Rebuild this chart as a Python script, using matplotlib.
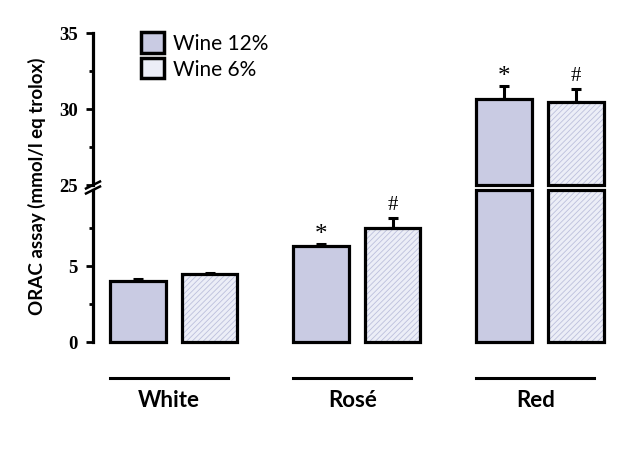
import numpy as np
import matplotlib
matplotlib.use("Agg")
import matplotlib.pyplot as plt
from matplotlib.legend_handler import HandlerTuple
from matplotlib.transforms import blended_transform_factory

# data
wines = ["White", "Rosé", "Red"]
wine12 = np.array([4.03, 6.33, 30.63])
wine6 = np.array([4.45, 7.52, 30.44])
err12 = np.array([0.10, 0.15, 0.88])
err6 = np.array([0.08, 0.62, 0.86])
marks12 = ["", "*", "*"]
marks6 = ["", "#", "#"]

low_lim = (0, 10)
high_lim = (25, 35)

fill12 = "#c9cbe3"
fill6 = "#eceef7"
hatch_col = "#bcc0dc"
mark_size = {"*": 18, "#": 15}

plt.rcParams["hatch.linewidth"] = 0.6

fig = plt.figure(figsize=(6.4, 4.52), dpi=100)
ax_lo = fig.add_axes([93 / 640, 109 / 452, 527 / 640, 152 / 452])
ax_hi = fig.add_axes([93 / 640, 266 / 452, 527 / 640, 152 / 452], sharex=ax_lo)

centers = np.arange(len(wines)) * 2.56
x12 = centers - 0.5
x6 = centers + 0.5
w = 0.78

ax_lo.set_xlim(-1.13, 6.24)
ax_lo.set_ylim(*low_lim)
ax_hi.set_ylim(*high_lim)


def draw_bars(ax, x, bottom, height, fc, hatch):
    # fill + hatch first, then black outline on top
    ax.bar(x, height, w, bottom=bottom, color=fc, hatch=hatch,
           edgecolor=hatch_col, linewidth=0, clip_on=False, zorder=2)
    ax.bar(x, height, w, bottom=bottom, fill=False, edgecolor="black",
           linewidth=2.3, clip_on=False, zorder=3)


for vals, errs, xs, fc, hatch, marks in [
        (wine12, err12, x12, fill12, None, marks12),
        (wine6, err6, x6, fill6, "//////", marks6)]:
    lo_h = np.minimum(vals, low_lim[1])
    draw_bars(ax_lo, xs, 0, lo_h, fc, hatch)
    hi = vals > high_lim[0]
    draw_bars(ax_hi, xs[hi], high_lim[0], vals[hi] - high_lim[0], fc, hatch)
    for xi, v, e, m in zip(xs, vals, errs, marks):
        ax = ax_hi if v > high_lim[0] else ax_lo
        ax.errorbar(xi, v, yerr=[[0], [e]], fmt="none", ecolor="black",
                    elinewidth=2.2, capsize=3.5, capthick=2.2, zorder=1)
        if m:
            off = 3 if m == "#" else -1
            ax.annotate(m, (xi, v + e), xytext=(0, off), textcoords="offset points",
                        ha="center", va="bottom", fontsize=mark_size[m],
                        family="Liberation Serif")

# axes styling
for ax in (ax_lo, ax_hi):
    for s in ["top", "right", "bottom"]:
        ax.spines[s].set_visible(False)
    ax.spines["left"].set_linewidth(2.3)
    ax.tick_params(axis="x", bottom=False, labelbottom=False)
    ax.tick_params(axis="y", which="major", length=5, width=2, pad=6)
    ax.tick_params(axis="y", which="minor", length=3, width=2)
    ax.set_facecolor("none")

ax_lo.set_yticks([0, 5])
ax_lo.set_yticks([2.5, 7.5], minor=True)
ax_hi.set_yticks([25, 30, 35])
ax_hi.set_yticks([27.5, 32.5], minor=True)
for ax in (ax_lo, ax_hi):
    ax.set_yticklabels([str(int(t)) for t in ax.get_yticks()],
                       family="Liberation Serif", fontweight="bold", fontsize=13.5)

# axis break marks
dx, dy = 7 / 527, 3.5 / 152
ax_lo.plot([-dx, dx], [1 - dy, 1 + dy], transform=ax_lo.transAxes,
           color="black", lw=1.8, clip_on=False)
ax_hi.plot([-dx, dx], [-dy, dy], transform=ax_hi.transAxes,
           color="black", lw=1.8, clip_on=False)

# category underlines and labels
trans = blended_transform_factory(ax_lo.transData, ax_lo.transAxes)
for c, name in zip(centers, wines):
    ax_lo.plot([c - 0.89, c + 0.76], [-0.237, -0.237], transform=trans,
               color="black", lw=2.2, clip_on=False)
    ax_lo.text(c - 0.065, -0.38, name, transform=trans, ha="center", va="center",
               fontsize=16, fontweight="bold", family="Lato")

fig.text(37 / 640, 1 - 186 / 452, "ORAC assay (mmol/l eq trolox)", rotation=90,
         ha="center", va="center", fontsize=13.5, fontweight="bold", family="Lato")

# legend
h12 = (ax_hi.bar([0], [0], color=fill12, linewidth=0),
       ax_hi.bar([0], [0], fill=False, edgecolor="black", linewidth=2.5))
h6 = (ax_hi.bar([0], [0], color=fill6, linewidth=0),
      ax_hi.bar([0], [0], fill=False, edgecolor="black", linewidth=2.5))
leg = ax_hi.legend([h12, h6], ["Wine 12%", "Wine 6%"],
                   handler_map={tuple: HandlerTuple(ndivide=1, pad=0)},
                   loc="upper left", bbox_to_anchor=(141 / 640, 1 - 33 / 452),
                   bbox_transform=fig.transFigure, frameon=False,
                   handlelength=1.1, handleheight=1.15, handletextpad=0.45,
                   labelspacing=0.2, borderpad=0, borderaxespad=0,
                   prop={"family": "Lato", "size": 15})

fig.savefig("out.png", dpi=100)
